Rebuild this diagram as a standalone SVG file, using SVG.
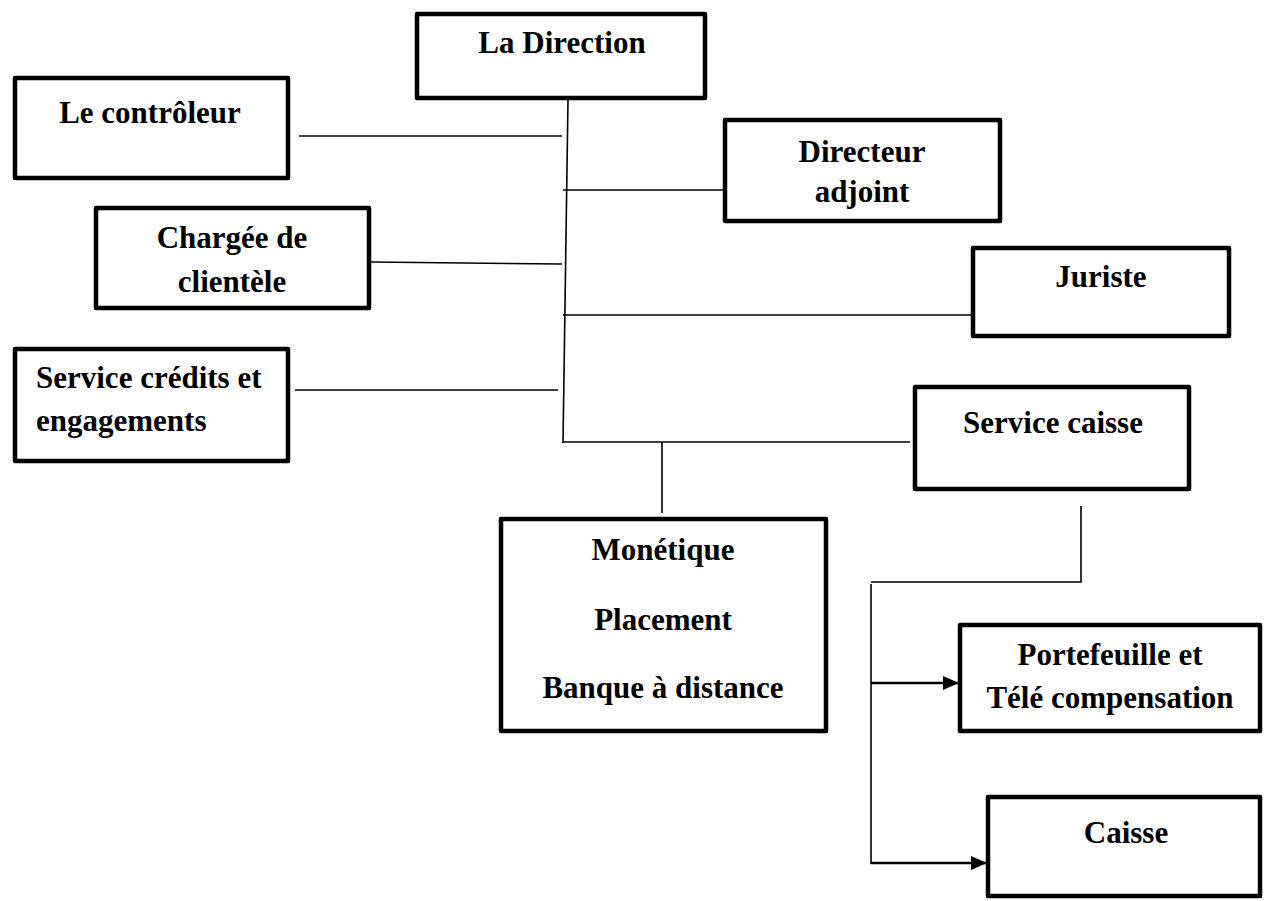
<svg xmlns="http://www.w3.org/2000/svg" width="1266" height="901" viewBox="0 0 1266 901">
  <style>
    .box { fill: #fff; stroke: #000; stroke-width: 4.5; stroke-linejoin: round; }
    .lbl { font-family: "Liberation Serif", "Times New Roman", serif; font-weight: bold; font-size: 31px; fill: #000; text-anchor: middle; }
    .lbl.left { text-anchor: start; }
    .wire { fill: none; stroke: #000; stroke-width: 1.6; }
    .wire.thick { stroke-width: 2.4; }
  </style>
  <defs>
    <marker id="arrow" markerUnits="userSpaceOnUse" markerWidth="16" markerHeight="14" refX="15" refY="7" orient="auto">
      <path d="M0,0 L16,7 L0,14 Z" fill="#000"/>
    </marker>
  </defs>
  <rect width="1266" height="901" fill="#fff"/>

  <g id="connectors">
    <line class="wire" x1="568" y1="100" x2="563" y2="443"/>
    <line class="wire" x1="299" y1="136" x2="562" y2="136"/>
    <line class="wire" x1="563" y1="190" x2="723" y2="190"/>
    <line class="wire" x1="371" y1="262" x2="562" y2="264"/>
    <line class="wire" x1="563" y1="315" x2="972" y2="315"/>
    <line class="wire" x1="295" y1="390" x2="558" y2="390"/>
    <line class="wire" x1="563" y1="442" x2="910" y2="442"/>
    <line class="wire" x1="662" y1="442" x2="662" y2="513"/>
    <polyline class="wire" points="1081,506 1081,582 871,582"/>
    <line class="wire" x1="871" y1="584" x2="871" y2="864"/>
    <line class="wire thick" x1="871" y1="683" x2="958" y2="683" marker-end="url(#arrow)"/>
    <line class="wire thick" x1="871" y1="863" x2="986" y2="863" marker-end="url(#arrow)"/>
  </g>

  <g id="la-direction">
    <rect class="box" x="417" y="14" width="288" height="84"/>
    <text class="lbl" x="562" y="53">La Direction</text>
  </g>
  <g id="le-controleur">
    <rect class="box" x="15" y="78" width="273" height="100"/>
    <text class="lbl" x="150" y="123">Le contrôleur</text>
  </g>
  <g id="directeur-adjoint">
    <rect class="box" x="725" y="120" width="275" height="101"/>
    <text class="lbl" x="862" y="162">Directeur</text>
    <text class="lbl" x="862" y="202">adjoint</text>
  </g>
  <g id="chargee-clientele">
    <rect class="box" x="96" y="208" width="273" height="100"/>
    <text class="lbl" x="232" y="248">Chargée de</text>
    <text class="lbl" x="232" y="292">clientèle</text>
  </g>
  <g id="juriste">
    <rect class="box" x="973" y="248" width="256" height="88"/>
    <text class="lbl" x="1101" y="287">Juriste</text>
  </g>
  <g id="service-credits">
    <rect class="box" x="15" y="349" width="273" height="112"/>
    <text class="lbl left" x="36" y="388">Service crédits et</text>
    <text class="lbl left" x="36" y="431">engagements</text>
  </g>
  <g id="service-caisse">
    <rect class="box" x="915" y="387" width="274" height="102"/>
    <text class="lbl" x="1053" y="433">Service caisse</text>
  </g>
  <g id="monetique">
    <rect class="box" x="501" y="519" width="325" height="212"/>
    <text class="lbl" x="663" y="560">Monétique</text>
    <text class="lbl" x="663" y="630">Placement</text>
    <text class="lbl" x="663" y="698">Banque à distance</text>
  </g>
  <g id="portefeuille">
    <rect class="box" x="960" y="625" width="300" height="106"/>
    <text class="lbl" x="1110" y="665">Portefeuille et</text>
    <text class="lbl" x="1110" y="708">Télé compensation</text>
  </g>
  <g id="caisse">
    <rect class="box" x="988" y="797" width="272" height="99"/>
    <text class="lbl" x="1126" y="843">Caisse</text>
  </g>
</svg>
